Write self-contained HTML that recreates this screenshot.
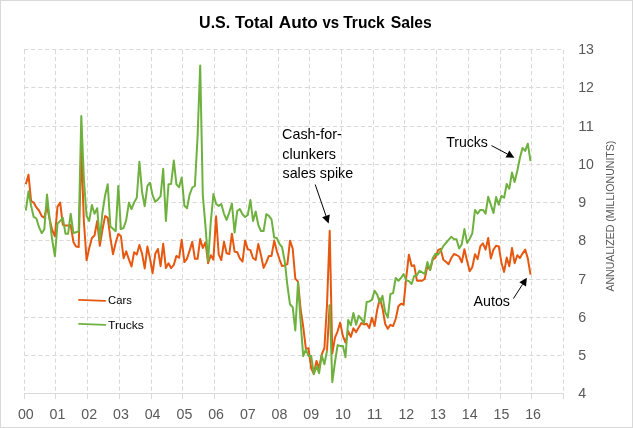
<!DOCTYPE html>
<html lang="en">
<head>
<meta charset="utf-8">
<title>U.S. Total Auto vs Truck Sales</title>
<style>
html,body{margin:0;padding:0;background:#fff;}
body{width:633px;height:428px;overflow:hidden;}
svg{display:block;}
text{font-family:"Liberation Sans",Arial,sans-serif;}
.ax{fill:#595959;font-size:14.2px;}
.an{fill:#000;font-size:14.2px;}
.lg{fill:#000;font-size:10.8px;}
.ti{fill:#000;font-size:16.4px;font-weight:bold;}
.yt{fill:#595959;font-size:10.8px;}
</style>
</head>
<body>
<svg width="633" height="428" viewBox="0 0 633 428">
<rect x="0" y="0" width="633" height="428" fill="#fff"/>
<rect x="0.5" y="0.5" width="632" height="427" fill="none" stroke="#d9d9d9" stroke-width="1"/>
<g stroke="#d9d9d9" stroke-width="1" fill="none" stroke-dasharray="4.2 2.812">
<line x1="24.0" y1="49.5" x2="564" y2="49.5"/>
<line x1="24.3" y1="87.5" x2="564" y2="87.5"/>
<line x1="24.3" y1="126.5" x2="564" y2="126.5"/>
<line x1="24.3" y1="164.5" x2="564" y2="164.5"/>
<line x1="24.3" y1="202.5" x2="564" y2="202.5"/>
<line x1="24.3" y1="240.5" x2="564" y2="240.5"/>
<line x1="24.3" y1="279.5" x2="564" y2="279.5"/>
<line x1="24.3" y1="317.5" x2="564" y2="317.5"/>
<line x1="24.3" y1="355.5" x2="564" y2="355.5"/>
<line x1="24.5" y1="50" x2="24.5" y2="393"/>
<line x1="55.5" y1="50" x2="55.5" y2="393"/>
<line x1="87.5" y1="50" x2="87.5" y2="393"/>
<line x1="119.5" y1="50" x2="119.5" y2="393"/>
<line x1="151.5" y1="50" x2="151.5" y2="393"/>
<line x1="182.5" y1="50" x2="182.5" y2="393"/>
<line x1="214.5" y1="50" x2="214.5" y2="393"/>
<line x1="246.5" y1="50" x2="246.5" y2="393"/>
<line x1="278.5" y1="50" x2="278.5" y2="393"/>
<line x1="309.5" y1="50" x2="309.5" y2="393"/>
<line x1="341.5" y1="50" x2="341.5" y2="393"/>
<line x1="373.5" y1="50" x2="373.5" y2="393"/>
<line x1="404.5" y1="50" x2="404.5" y2="393"/>
<line x1="436.5" y1="50" x2="436.5" y2="393"/>
<line x1="468.5" y1="50" x2="468.5" y2="393"/>
<line x1="500.5" y1="50" x2="500.5" y2="393"/>
<line x1="531.5" y1="50" x2="531.5" y2="393"/>
<line x1="563.5" y1="50" x2="563.5" y2="393"/>
</g>
<g stroke="#d9d9d9" stroke-width="1" fill="none">
<line x1="24" y1="393.5" x2="564" y2="393.5"/>
<line x1="24.5" y1="393" x2="24.5" y2="399"/>
<line x1="55.5" y1="393" x2="55.5" y2="399"/>
<line x1="87.5" y1="393" x2="87.5" y2="399"/>
<line x1="119.5" y1="393" x2="119.5" y2="399"/>
<line x1="151.5" y1="393" x2="151.5" y2="399"/>
<line x1="182.5" y1="393" x2="182.5" y2="399"/>
<line x1="214.5" y1="393" x2="214.5" y2="399"/>
<line x1="246.5" y1="393" x2="246.5" y2="399"/>
<line x1="278.5" y1="393" x2="278.5" y2="399"/>
<line x1="309.5" y1="393" x2="309.5" y2="399"/>
<line x1="341.5" y1="393" x2="341.5" y2="399"/>
<line x1="373.5" y1="393" x2="373.5" y2="399"/>
<line x1="404.5" y1="393" x2="404.5" y2="399"/>
<line x1="436.5" y1="393" x2="436.5" y2="399"/>
<line x1="468.5" y1="393" x2="468.5" y2="399"/>
<line x1="500.5" y1="393" x2="500.5" y2="399"/>
<line x1="531.5" y1="393" x2="531.5" y2="399"/>
<line x1="563.5" y1="393" x2="563.5" y2="399"/>
</g>
<polyline fill="none" stroke="#e6580f" stroke-width="2" stroke-linejoin="round" stroke-linecap="butt" points="25.8,184.3 28.5,174.8 31.1,201.0 33.7,202.6 36.4,207.4 39.0,210.5 41.7,216.1 44.3,217.7 47.0,206.0 49.6,219.0 52.2,230.0 54.9,236.3 57.5,206.6 60.2,202.6 62.8,224.8 65.5,225.6 68.1,225.6 70.7,225.0 73.4,241.9 76.0,246.6 78.7,247.0 81.3,148.0 83.9,222.0 86.6,260.2 89.2,248.2 91.9,237.9 94.5,235.5 97.2,221.0 99.8,245.8 102.4,230.0 105.1,216.1 107.7,217.7 110.4,238.0 113.0,254.2 115.7,242.7 118.3,234.0 120.9,236.0 123.6,258.2 126.2,251.4 128.9,259.4 131.5,266.5 134.1,252.2 136.8,254.6 139.4,245.0 142.1,253.8 144.7,268.4 147.4,246.6 150.0,258.6 152.6,273.2 155.3,253.8 157.9,249.0 160.6,266.2 163.2,243.8 165.9,268.1 168.5,263.3 171.1,268.1 173.8,264.9 176.4,255.9 179.1,257.8 181.7,239.8 184.4,262.1 187.0,258.6 189.6,250.6 192.3,241.9 194.9,258.8 197.6,258.8 200.2,239.0 202.8,248.0 205.5,242.2 208.1,263.2 210.8,255.2 213.4,259.7 216.1,216.2 218.7,254.4 221.3,260.0 224.0,241.7 226.6,253.3 229.3,254.1 231.9,233.7 234.6,251.7 237.2,252.0 239.8,258.4 242.5,261.6 245.1,240.6 247.8,249.2 250.4,250.1 253.0,258.0 255.7,260.0 258.3,244.0 261.0,255.2 263.6,267.9 266.3,262.4 268.9,256.0 271.5,256.0 274.2,240.6 276.8,251.0 279.5,259.3 282.1,266.1 284.8,265.4 287.4,264.1 290.0,240.7 292.7,248.5 295.3,278.7 298.0,281.7 300.6,309.0 303.2,326.6 305.9,348.9 308.5,348.2 311.2,368.2 313.8,373.7 316.5,361.0 319.1,368.2 321.7,354.6 324.4,348.0 327.0,305.0 329.7,230.8 332.3,353.6 335.0,337.7 337.6,331.3 340.2,322.6 342.9,336.1 345.5,342.5 348.2,331.3 350.8,336.9 353.4,328.2 356.1,332.1 358.7,327.4 361.4,323.0 364.0,324.5 366.7,323.7 369.3,328.0 371.9,317.7 374.6,326.0 377.2,309.7 379.9,298.6 382.5,308.2 385.2,324.0 387.8,328.8 390.4,324.8 393.1,326.0 395.7,319.0 398.4,306.2 401.0,303.7 403.6,304.7 406.3,276.8 408.9,254.7 411.6,266.1 414.2,265.3 416.9,280.7 419.5,280.7 422.1,280.7 424.8,278.8 427.4,266.0 430.1,270.0 432.7,259.7 435.4,257.8 438.0,250.2 440.6,248.9 443.3,259.7 445.9,261.7 448.6,264.2 451.2,258.2 453.9,254.0 456.5,255.0 459.1,256.5 461.8,262.3 464.4,249.3 467.1,261.0 469.7,271.3 472.3,267.3 475.0,254.3 477.6,259.1 480.3,246.4 482.9,243.3 485.6,249.6 488.2,238.0 490.8,258.4 493.5,249.6 496.1,245.7 498.8,246.5 501.4,262.4 504.1,271.9 506.7,257.6 509.3,266.3 512.0,248.0 514.6,263.2 517.3,255.2 519.9,258.0 522.5,253.6 525.2,249.6 527.8,258.4 530.5,274.6"/>
<polyline fill="none" stroke="#6eb13f" stroke-width="2" stroke-linejoin="round" stroke-linecap="butt" points="25.8,210.5 28.5,191.5 31.1,205.8 33.7,216.9 36.4,218.5 39.0,227.2 41.7,233.2 44.3,229.4 47.0,194.6 49.6,219.0 52.2,240.0 54.9,256.2 57.5,223.6 60.2,221.0 62.8,217.7 65.5,233.8 68.1,233.8 70.7,213.7 73.4,233.0 76.0,232.3 78.7,231.4 81.3,116.0 83.9,179.5 86.6,216.1 89.2,220.9 91.9,205.0 94.5,213.7 97.2,208.2 99.8,240.0 102.4,213.0 105.1,195.4 107.7,184.3 110.4,226.4 113.0,228.8 115.7,231.2 118.3,185.9 120.9,229.1 123.6,228.0 126.2,220.1 128.9,202.6 131.5,209.0 134.1,202.6 136.8,197.8 139.4,161.7 142.1,192.3 144.7,206.2 147.4,185.9 150.0,182.7 152.6,195.4 155.3,201.8 157.9,199.4 160.6,196.2 163.2,168.8 165.9,221.0 168.5,184.3 171.1,184.0 173.8,160.6 176.4,184.3 179.1,187.2 181.7,177.6 184.4,205.8 187.0,208.2 189.6,194.6 192.3,187.5 194.9,186.0 197.6,136.0 200.2,65.4 202.8,195.0 205.5,226.6 208.1,261.0 210.8,221.8 213.4,194.0 216.1,204.0 218.7,205.9 221.3,204.0 224.0,213.8 226.6,219.9 229.3,212.3 231.9,203.5 234.6,232.6 237.2,211.0 239.8,209.0 242.5,214.2 245.1,217.0 247.8,215.0 250.4,200.0 253.0,221.0 255.7,211.5 258.3,225.0 261.0,231.0 263.6,231.0 266.3,214.2 268.9,215.8 271.5,219.4 274.2,237.5 276.8,238.0 279.5,244.0 282.1,247.2 284.8,261.7 287.4,285.5 290.0,304.3 292.7,307.2 295.3,330.5 298.0,282.5 300.6,321.8 303.2,356.1 305.9,349.4 308.5,356.0 311.2,356.1 313.8,374.2 316.5,366.2 319.1,373.2 321.7,355.4 324.4,364.2 327.0,350.7"/>
<polyline fill="none" stroke="#e6580f" stroke-width="2" stroke-linejoin="round" stroke-linecap="butt" points="327.0,350.7 329.7,304.6"/>
<polyline fill="none" stroke="#6eb13f" stroke-width="2" stroke-linejoin="round" stroke-linecap="butt" points="329.7,304.6 332.3,382.1 335.0,362.0 337.6,345.1 340.2,345.9 342.9,345.9 345.5,357.3 348.2,319.9 350.8,325.3 353.4,313.0 356.1,324.7 358.7,315.8 361.4,319.0 364.0,323.2 366.7,301.9 369.3,301.4 371.9,299.9 374.6,290.7 377.2,294.6 379.9,302.6 382.5,295.8 385.2,312.1 387.8,317.7 390.4,294.2 393.1,293.0 395.7,278.0 398.4,280.8 401.0,278.0 403.6,274.0 406.3,280.2 408.9,281.1 411.6,284.0 414.2,276.0 416.9,275.2 419.5,270.8 422.1,272.4 424.8,274.0 427.4,262.1 430.1,270.0 432.7,258.2 435.4,253.7 438.0,254.7 440.6,251.0 443.3,246.2 445.9,243.0 448.6,239.9 451.2,236.8 453.9,239.0 456.5,239.2 459.1,248.5 461.8,244.2 464.4,229.1 467.1,242.9 469.7,238.7 472.3,233.4 475.0,209.9 477.6,213.7 480.3,209.9 482.9,209.9 485.6,213.7 488.2,196.7 490.8,204.6 493.5,213.0 496.1,197.1 498.8,204.6 501.4,195.9 504.1,197.8 506.7,184.0 509.3,188.7 512.0,172.4 514.6,181.9 517.3,170.8 519.9,158.0 522.5,148.0 525.2,150.9 527.8,143.7 530.5,161.2"/>
<line x1="79" y1="299.9" x2="105.2" y2="300.8" stroke="#e6580f" stroke-width="1.8" stroke-linecap="round"/>
<line x1="79" y1="323.9" x2="105.2" y2="324.9" stroke="#6eb13f" stroke-width="1.8" stroke-linecap="round"/>
<text class="ti"><tspan x="199.10" y="27.70" textLength="31.17" lengthAdjust="spacingAndGlyphs">U.S.</tspan> <tspan x="235.06" y="27.70" textLength="38.21" lengthAdjust="spacingAndGlyphs">Total</tspan> <tspan x="278.76" y="27.70" textLength="39.12" lengthAdjust="spacingAndGlyphs">Auto</tspan> <tspan x="322.50" y="27.70" textLength="16.60" lengthAdjust="spacingAndGlyphs">vs</tspan> <tspan x="343.21" y="27.70" textLength="41.58" lengthAdjust="spacingAndGlyphs">Truck</tspan> <tspan x="390.76" y="27.70" textLength="41.12" lengthAdjust="spacingAndGlyphs">Sales</tspan></text>
<text class="an"><tspan x="282.04" y="139.00" textLength="59.85" lengthAdjust="spacingAndGlyphs">Cash-for-</tspan> <tspan x="282.26" y="158.90" textLength="53.69" lengthAdjust="spacingAndGlyphs">clunkers</tspan> <tspan x="282.49" y="177.80" textLength="70.75" lengthAdjust="spacingAndGlyphs">sales spike</tspan></text>
<text class="an"><tspan x="446.13" y="146.60" textLength="41.76" lengthAdjust="spacingAndGlyphs">Trucks</tspan></text>
<text class="an"><tspan x="473.50" y="305.50" textLength="36.45" lengthAdjust="spacingAndGlyphs">Autos</tspan></text>
<text class="lg"><tspan x="108.05" y="303.80" textLength="23.76" lengthAdjust="spacingAndGlyphs">Cars</tspan></text>
<text class="lg"><tspan x="107.92" y="328.90" textLength="36.03" lengthAdjust="spacingAndGlyphs">Trucks</tspan></text>
<text class="ax" x="578.2" y="54.0" textLength="15.7" lengthAdjust="spacingAndGlyphs">13</text>
<text class="ax" x="578.2" y="92.0" textLength="15.7" lengthAdjust="spacingAndGlyphs">12</text>
<text class="ax" x="578.2" y="131.0" textLength="15.7" lengthAdjust="spacingAndGlyphs">11</text>
<text class="ax" x="578.2" y="169.0" textLength="15.7" lengthAdjust="spacingAndGlyphs">10</text>
<text class="ax" x="578.2" y="207.0" textLength="7.9" lengthAdjust="spacingAndGlyphs">9</text>
<text class="ax" x="578.2" y="245.0" textLength="7.9" lengthAdjust="spacingAndGlyphs">8</text>
<text class="ax" x="578.2" y="284.0" textLength="7.9" lengthAdjust="spacingAndGlyphs">7</text>
<text class="ax" x="578.2" y="322.0" textLength="7.9" lengthAdjust="spacingAndGlyphs">6</text>
<text class="ax" x="578.2" y="360.0" textLength="7.9" lengthAdjust="spacingAndGlyphs">5</text>
<text class="ax" x="578.2" y="398.0" textLength="7.9" lengthAdjust="spacingAndGlyphs">4</text>
<text class="ax" x="17.9" y="419.0" textLength="15.8" lengthAdjust="spacingAndGlyphs">00</text>
<text class="ax" x="49.6" y="419.0" textLength="15.8" lengthAdjust="spacingAndGlyphs">01</text>
<text class="ax" x="81.3" y="419.0" textLength="15.8" lengthAdjust="spacingAndGlyphs">02</text>
<text class="ax" x="113.0" y="419.0" textLength="15.8" lengthAdjust="spacingAndGlyphs">03</text>
<text class="ax" x="144.7" y="419.0" textLength="15.8" lengthAdjust="spacingAndGlyphs">04</text>
<text class="ax" x="176.5" y="419.0" textLength="15.8" lengthAdjust="spacingAndGlyphs">05</text>
<text class="ax" x="208.2" y="419.0" textLength="15.8" lengthAdjust="spacingAndGlyphs">06</text>
<text class="ax" x="239.9" y="419.0" textLength="15.8" lengthAdjust="spacingAndGlyphs">07</text>
<text class="ax" x="271.6" y="419.0" textLength="15.8" lengthAdjust="spacingAndGlyphs">08</text>
<text class="ax" x="303.3" y="419.0" textLength="15.8" lengthAdjust="spacingAndGlyphs">09</text>
<text class="ax" x="335.0" y="419.0" textLength="15.8" lengthAdjust="spacingAndGlyphs">10</text>
<text class="ax" x="366.7" y="419.0" textLength="15.8" lengthAdjust="spacingAndGlyphs">11</text>
<text class="ax" x="398.4" y="419.0" textLength="15.8" lengthAdjust="spacingAndGlyphs">12</text>
<text class="ax" x="430.1" y="419.0" textLength="15.8" lengthAdjust="spacingAndGlyphs">13</text>
<text class="ax" x="461.8" y="419.0" textLength="15.8" lengthAdjust="spacingAndGlyphs">14</text>
<text class="ax" x="493.5" y="419.0" textLength="15.8" lengthAdjust="spacingAndGlyphs">15</text>
<text class="ax" x="525.2" y="419.0" textLength="15.8" lengthAdjust="spacingAndGlyphs">16</text>
<text class="yt" transform="translate(614.0,291.6) rotate(-90)" textLength="151" lengthAdjust="spacingAndGlyphs">ANNUALIZED (MILLIONUNITS)</text>
<line x1="315.2" y1="184.5" x2="326.0" y2="215.9" stroke="#000" stroke-width="1"/>
<polygon points="328.6,223.4 322.2,217.2 329.8,214.6" fill="#000"/>
<line x1="491.5" y1="145.6" x2="507.4" y2="154.0" stroke="#000" stroke-width="1"/>
<polygon points="514.4,157.7 505.5,157.5 509.3,150.5" fill="#000"/>
<line x1="513.4" y1="298.6" x2="522.6" y2="284.3" stroke="#000" stroke-width="1"/>
<polygon points="526.9,277.7 526.0,286.5 519.3,282.2" fill="#000"/>
</svg>
</body>
</html>
